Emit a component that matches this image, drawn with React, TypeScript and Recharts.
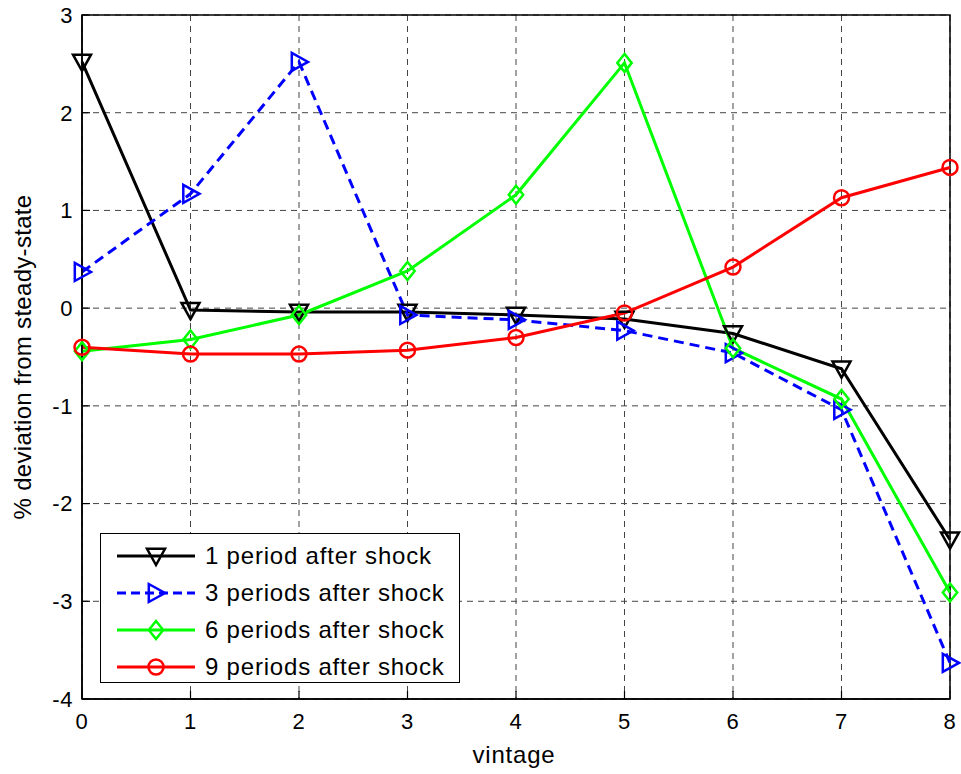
import React from 'react'
import {
  LineChart,
  Line,
  XAxis,
  YAxis,
  CartesianGrid,
  Legend,
  ReferenceArea,
} from 'recharts'

const vintage = [0, 1, 2, 3, 4, 5, 6, 7, 8]
const period1 = [2.52, -0.02, -0.04, -0.04, -0.07, -0.11, -0.26, -0.62, -2.37]
const period3 = [0.37, 1.17, 2.52, -0.07, -0.12, -0.23, -0.46, -1.04, -3.63]
const period6 = [-0.44, -0.32, -0.07, 0.38, 1.16, 2.51, -0.41, -0.93, -2.91]
const period9 = [-0.4, -0.47, -0.47, -0.43, -0.3, -0.05, 0.42, 1.13, 1.44]

const xTicks = [0, 1, 2, 3, 4, 5, 6, 7, 8]
const yTicks = [-4, -3, -2, -1, 0, 1, 2, 3]

const FONT = '"Liberation Sans", Arial, Helvetica, sans-serif'

const data = vintage.map((v, i) => ({
  vintage: v,
  p1: period1[i],
  p3: period3[i],
  p6: period6[i],
  p9: period9[i],
}))

type Shape = 'down' | 'right' | 'diamond' | 'circle'

function marker(shape: Shape, cx: number, cy: number, color: string, key?: string) {
  const s = 9
  if (shape === 'down') {
    return (
      <polygon
        key={key}
        points={`${cx - s},${cy - s * 0.8} ${cx + s},${cy - s * 0.8} ${cx},${cy + s}`}
        fill="none"
        stroke={color}
        strokeWidth={2.5}
      />
    )
  }
  if (shape === 'right') {
    return (
      <polygon
        key={key}
        points={`${cx - s * 0.8},${cy - s} ${cx - s * 0.8},${cy + s} ${cx + s},${cy}`}
        fill="none"
        stroke={color}
        strokeWidth={2.5}
      />
    )
  }
  if (shape === 'diamond') {
    return (
      <polygon
        key={key}
        points={`${cx},${cy - s} ${cx + s * 0.8},${cy} ${cx},${cy + s} ${cx - s * 0.8},${cy}`}
        fill="none"
        stroke={color}
        strokeWidth={2.5}
      />
    )
  }
  return <circle key={key} cx={cx} cy={cy} r={7.5} fill="none" stroke={color} strokeWidth={2.5} />
}

const series = [
  { key: 'p1', name: '1 period after shock', color: '#000000', shape: 'down' as Shape, dash: undefined },
  { key: 'p3', name: '3 periods after shock', color: '#0000ff', shape: 'right' as Shape, dash: '10 6' },
  { key: 'p6', name: '6 periods after shock', color: '#00ff00', shape: 'diamond' as Shape, dash: undefined },
  { key: 'p9', name: '9 periods after shock', color: '#ff0000', shape: 'circle' as Shape, dash: undefined },
]

function LegendBox() {
  return (
    <div
      style={{
        border: '1.5px solid #000',
        background: '#fff',
        width: 360,
        height: 150,
        boxSizing: 'border-box',
        padding: '3px 0 0 14px',
        fontFamily: FONT,
        fontSize: 24,
        letterSpacing: 0.8,
      }}
    >
      {series.map((s) => (
        <div key={s.key} style={{ display: 'flex', alignItems: 'center', height: 37 }}>
          <svg width={82} height={30} style={{ marginRight: 8 }}>
            <line
              x1={2}
              y1={15}
              x2={80}
              y2={15}
              stroke={s.color}
              strokeWidth={3}
              strokeDasharray={s.dash ? '9 5' : undefined}
            />
            {marker(s.shape, 41, 15, s.color)}
          </svg>
          <span style={{ color: '#000' }}>{s.name}</span>
        </div>
      ))}
    </div>
  )
}

const noTick = () => <g />
const tickStyle = { fill: '#000', fontSize: 22, fontFamily: FONT, letterSpacing: 0.6 }
const axisLine = { stroke: '#000', strokeWidth: 1.5 }
const tickLine = { stroke: '#000', strokeWidth: 1.2 }

export default function App() {
  return (
    <div style={{ position: 'absolute', left: 0, top: 0, background: '#fff' }}>
      <LineChart
        width={961}
        height={774}
        data={data}
        margin={{ top: 15, right: 11, left: 12, bottom: 45 }}
      >
        <CartesianGrid stroke="#444" strokeDasharray="6 5" strokeWidth={1} />
        <XAxis
          dataKey="vintage"
          type="number"
          domain={[0, 8]}
          ticks={xTicks}
          height={30}
          tickSize={-8}
          tickMargin={22}
          axisLine={axisLine}
          tickLine={tickLine}
          tick={tickStyle}
          label={() => (
            <text
              x={514}
              y={763}
              textAnchor="middle"
              fontSize={24}
              letterSpacing={0.8}
              fontFamily={FONT}
              fill="#000"
            >
              vintage
            </text>
          )}
        />
        <XAxis
          xAxisId="top"
          orientation="top"
          dataKey="vintage"
          type="number"
          domain={[0, 8]}
          ticks={xTicks}
          height={0}
          tickSize={-8}
          axisLine={axisLine}
          tickLine={tickLine}
          tick={noTick}
        />
        <YAxis
          type="number"
          domain={[-4, 3]}
          ticks={yTicks}
          width={70}
          tickSize={-8}
          tickMargin={17}
          axisLine={axisLine}
          tickLine={tickLine}
          tick={tickStyle}
          label={() => (
            <text
              x={31}
              y={357}
              transform="rotate(-90, 31, 357)"
              textAnchor="middle"
              fontSize={24}
              letterSpacing={0.3}
              fontFamily={FONT}
              fill="#000"
            >
              % deviation from steady-state
            </text>
          )}
        />
        <YAxis
          yAxisId="right"
          orientation="right"
          type="number"
          domain={[-4, 3]}
          ticks={yTicks}
          width={0}
          tickSize={-8}
          axisLine={axisLine}
          tickLine={tickLine}
          tick={noTick}
        />
        <ReferenceArea x1={0} x2={8} y1={-4} y2={3} fill="none" stroke="#000" strokeWidth={1.5} />
        {series.map((s) => (
          <Line
            key={s.key}
            dataKey={s.key}
            name={s.name}
            stroke={s.color}
            strokeWidth={3}
            strokeDasharray={s.dash}
            isAnimationActive={false}
            dot={(p: any) => marker(s.shape, p.cx, p.cy, s.color, `${s.key}-${p.index}`)}
            activeDot={false}
          />
        ))}
        <Legend
          layout="vertical"
          align="center"
          verticalAlign="middle"
          content={() => <LegendBox />}
          wrapperStyle={{ left: 100, top: 533, width: 360 }}
        />
      </LineChart>
    </div>
  )
}
